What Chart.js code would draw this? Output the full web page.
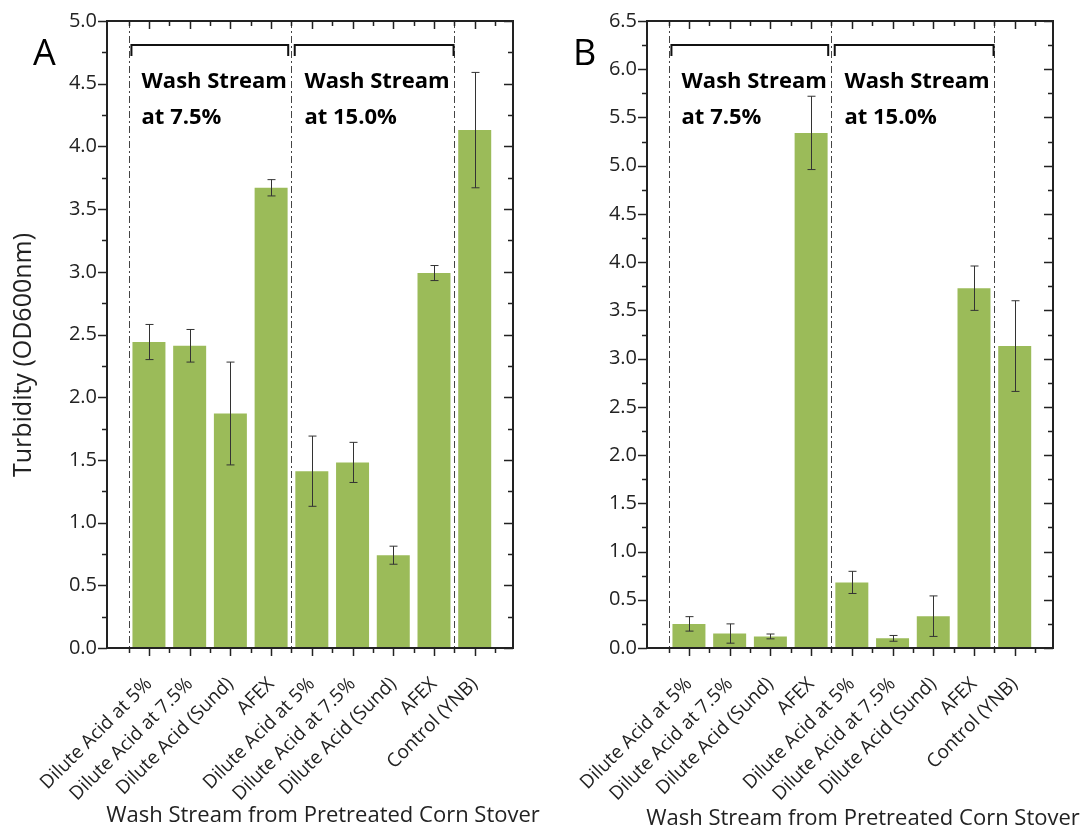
<!DOCTYPE html>
<html>
<head>
<meta charset="utf-8">
<script src="https://cdn.jsdelivr.net/npm/chart.js@4.4.0/dist/chart.umd.min.js"></script>
<style>
  html, body { margin: 0; padding: 0; background: #fff; }
  .wrap { display: flex; width: 1080px; height: 828px; }
  canvas { display: block; }
</style>
</head>
<body>
<div class="wrap">
  <canvas id="chartA" width="540" height="828"></canvas>
  <canvas id="chartB" width="540" height="828"></canvas>
</div>
<script>
// categories along the x axis (two wash-stream groups + control)
const categories = ['Dilute Acid at 5%', 'Dilute Acid at 7.5%', 'Dilute Acid (Sund)', 'AFEX',
                    'Dilute Acid at 5%', 'Dilute Acid at 7.5%', 'Dilute Acid (Sund)', 'AFEX', 'Control (YNB)'];

// panel A
const turbidityA = [2.44, 2.41, 1.87, 3.67, 1.41, 1.48, 0.74, 2.99, 4.13];
const errorA     = [0.14, 0.13, 0.41, 0.065, 0.28, 0.16, 0.072, 0.06, 0.46];
const yTicksA    = [0, 0.5, 1.0, 1.5, 2.0, 2.5, 3.0, 3.5, 4.0, 4.5, 5.0];

// panel B
const turbidityB = [0.25, 0.15, 0.12, 5.34, 0.68, 0.10, 0.33, 3.73, 3.13];
const errorB     = [0.075, 0.10, 0.025, 0.38, 0.115, 0.03, 0.21, 0.23, 0.47];
const yTicksB    = [0, 0.5, 1.0, 1.5, 2.0, 2.5, 3.0, 3.5, 4.0, 4.5, 5.0, 5.5, 6.0, 6.5];

// group separators, brackets and their captions (x in category units)
const groupLines    = [0.5, 4.5, 8.5];
const groupBrackets = [[0.57, 4.42], [4.58, 8.48]];
const groupLabels   = [['Wash Stream', 'at 7.5%'], ['Wash Stream', 'at 15.0%']];

const xTitle = 'Wash Stream from Pretreated Corn Stover';
const yTitle = 'Turbidity (OD600nm)';

const INK = '#222';
const FONT = '"Open Sans", "DejaVu Sans", sans-serif';

// frame, minor ticks, error bars and the annotations
const decorations = {
  id: 'decorations',
  beforeDatasetsDraw(chart) {
    const { ctx, chartArea: a, scales: { x } } = chart;
    ctx.save();
    ctx.strokeStyle = '#444';
    ctx.lineWidth = 1;
    ctx.setLineDash([7, 3, 2, 3]);
    groupLines.forEach(v => {
      const px = Math.round(x.getPixelForValue(v)) + 0.5;
      ctx.beginPath();
      ctx.moveTo(px, a.top);
      ctx.lineTo(px, a.bottom);
      ctx.stroke();
    });
    ctx.restore();
  },
  afterDatasetsDraw(chart, args, opts) {
    const { ctx, chartArea: a, scales: { x, y } } = chart;
    const values = chart.data.datasets[0].data;
    ctx.save();

    // error bars
    ctx.strokeStyle = '#333';
    ctx.lineWidth = 1;
    values.forEach((d, i) => {
      const e = opts.errors[i];
      const px = Math.round(x.getPixelForValue(d.x)) + 0.5;
      const yt = y.getPixelForValue(d.y + e);
      const yb = y.getPixelForValue(d.y - e);
      ctx.beginPath();
      ctx.moveTo(px, yt); ctx.lineTo(px, yb);
      ctx.moveTo(px - 4, yt); ctx.lineTo(px + 4, yt);
      ctx.moveTo(px - 4, yb); ctx.lineTo(px + 4, yb);
      ctx.stroke();
    });

    // axis frame
    ctx.strokeStyle = INK;
    ctx.lineWidth = 2;
    ctx.strokeRect(a.left, a.top, a.right - a.left, a.bottom - a.top);

    // y ticks: outward on the left, inward on the right
    ctx.lineWidth = 1.5;
    const yMax = y.max;
    for (let v = 0; v <= yMax + 1e-9; v += 0.25) {
      const major = Math.abs(v * 2 - Math.round(v * 2)) < 1e-6;
      const len = major ? 9 : 5;
      const py = Math.round(y.getPixelForValue(v)) + 0.5;
      ctx.beginPath();
      ctx.moveTo(a.left - len, py); ctx.lineTo(a.left, py);
      ctx.moveTo(a.right, py); ctx.lineTo(a.right - len, py);
      ctx.stroke();
    }
    // x ticks: outward at the bottom, inward at the top
    for (let v = 0.5; v <= categories.length + 0.5; v += 0.5) {
      const major = Number.isInteger(v);
      const len = major ? 8 : 5;
      const px = Math.round(x.getPixelForValue(v)) + 0.5;
      ctx.beginPath();
      ctx.moveTo(px, a.bottom); ctx.lineTo(px, a.bottom + len);
      ctx.moveTo(px, a.top); ctx.lineTo(px, a.top + len);
      ctx.stroke();
    }

    // group brackets
    ctx.lineWidth = 2;
    ctx.strokeStyle = '#111';
    const by = a.top + 24;
    groupBrackets.forEach(([s, e]) => {
      const x0 = x.getPixelForValue(s), x1 = x.getPixelForValue(e);
      ctx.beginPath();
      ctx.moveTo(x0, by + 11); ctx.lineTo(x0, by); ctx.lineTo(x1, by); ctx.lineTo(x1, by + 11);
      ctx.stroke();
    });

    // group captions
    ctx.fillStyle = '#000';
    ctx.font = 'bold 22px ' + FONT;
    ctx.textAlign = 'left';
    ctx.textBaseline = 'alphabetic';
    groupLabels.forEach((lines, i) => {
      const lx = x.getPixelForValue(groupLines[i]) + 13;
      lines.forEach((t, j) => ctx.fillText(t, lx, a.top + 67 + j * 36));
    });

    // panel letter
    ctx.font = '36px ' + FONT;
    ctx.fillText(opts.panel, 33, 65);

    // axis titles
    ctx.fillStyle = INK;
    ctx.font = '22px ' + FONT;
    ctx.textAlign = 'center';
    ctx.fillText(xTitle, 323, opts.xTitleY);
    if (opts.showYTitle) {
      ctx.font = '25px ' + FONT;
      ctx.translate(31, 355);
      ctx.rotate(-Math.PI / 2);
      ctx.fillText(yTitle, 0, 0);
    }
    ctx.restore();
  }
};

function makeChart(id, values, errors, yTicks, panel, showYTitle, xTitleY) {
  return new Chart(document.getElementById(id), {
    type: 'bar',
    data: {
      datasets: [{
        data: values.map((v, i) => ({ x: i + 1, y: v })),
        backgroundColor: '#9bbb59',
        barPercentage: 0.81,
        categoryPercentage: 1
      }]
    },
    options: {
      responsive: false,
      animation: false,
      layout: { padding: { top: 21, right: 27, left: 0, bottom: 0 } },
      plugins: {
        legend: { display: false },
        tooltip: { enabled: false },
        decorations: { errors, panel, showYTitle, xTitleY }
      },
      scales: {
        x: {
          type: 'linear',
          offset: false,
          min: -0.03,
          max: 9.94,
          afterBuildTicks: s => { s.ticks = categories.map((c, i) => ({ value: i + 1 })); },
          afterFit: s => { s.height = 180; s.paddingLeft = 0; s.paddingRight = 0; },
          border: { display: false },
          grid: { offset: false, drawOnChartArea: false, drawTicks: true, tickLength: 8, color: 'rgba(0,0,0,0)' },
          ticks: {
            autoSkip: false,
            maxRotation: 45,
            minRotation: 45,
            padding: 17,
            color: INK,
            font: { family: FONT, size: 19 },
            callback: (v, i) => categories[i]
          }
        },
        y: {
          min: 0,
          max: yTicks[yTicks.length - 1],
          afterBuildTicks: s => { s.ticks = yTicks.map(v => ({ value: v })); },
          afterFit: s => { s.width = 107; s.paddingTop = 0; s.paddingBottom = 0; },
          border: { display: false },
          grid: { drawOnChartArea: false, drawTicks: true, tickLength: 9, color: 'rgba(0,0,0,0)' },
          ticks: {
            padding: 1,
            color: INK,
            font: { family: FONT, size: 20 },
            callback: v => Number(v).toFixed(1)
          }
        }
      }
    },
    plugins: [decorations]
  });
}

makeChart('chartA', turbidityA, errorA, yTicksA, 'A', true, 822);
makeChart('chartB', turbidityB, errorB, yTicksB, 'B', false, 825);
</script>
</body>
</html>
